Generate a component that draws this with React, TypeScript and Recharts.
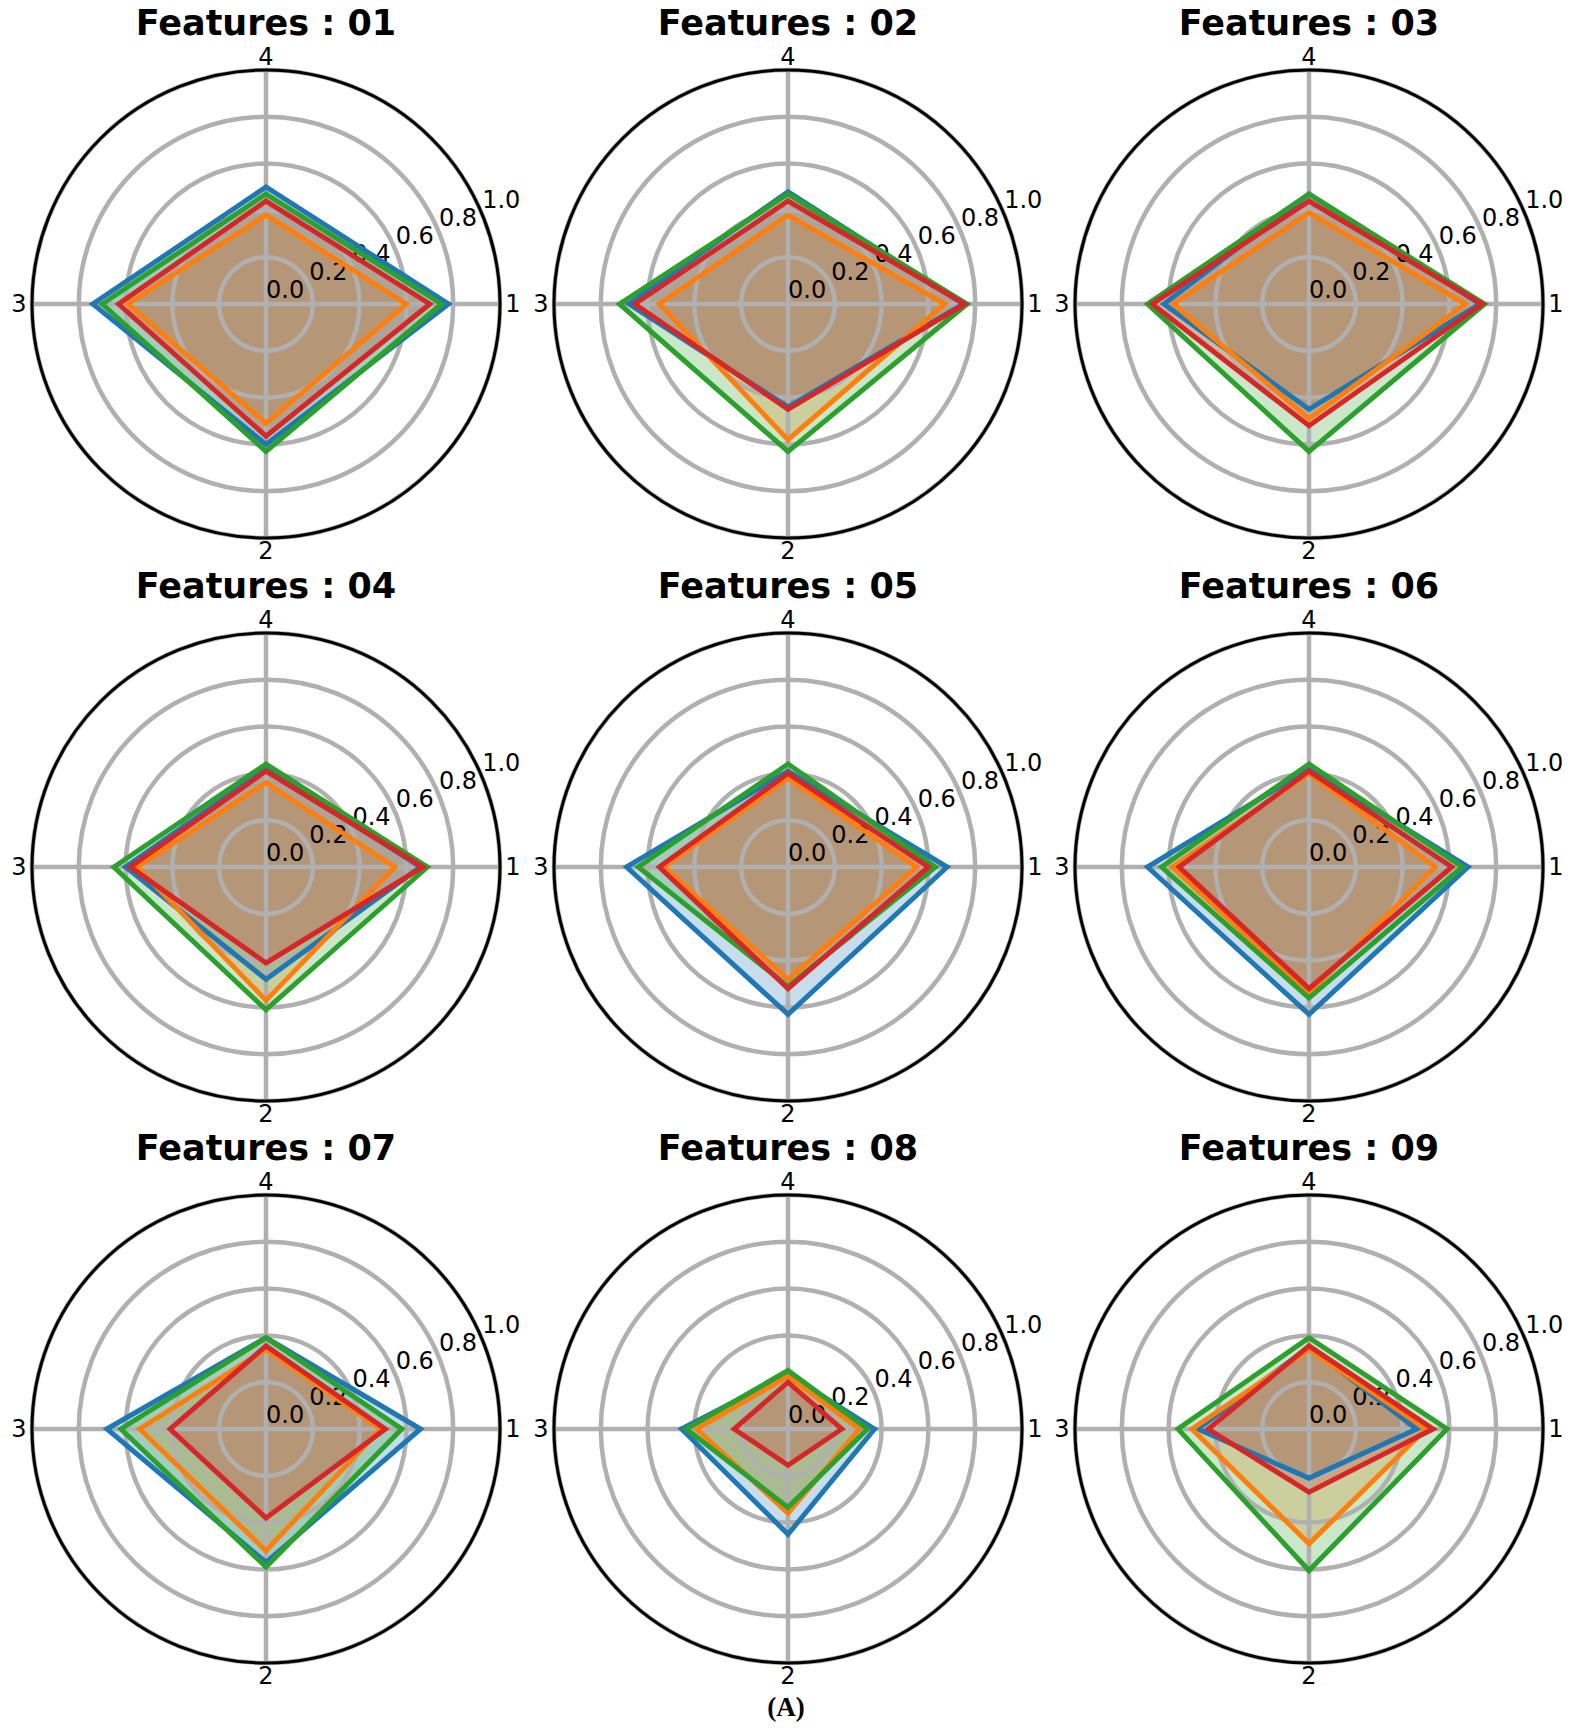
import React from 'react';
import { RadarChart, Radar, PolarGrid, PolarAngleAxis, PolarRadiusAxis } from 'recharts';

// ---- data ----
const categories = ['1', '2', '3', '4'];
const radiusTicks = [0, 0.2, 0.4, 0.6, 0.8, 1.0];
const seriesKeys = ['s1', 's2', 's3', 's4'];
const seriesColors = ['#1f77b4', '#ff7f0e', '#2ca02c', '#d62728'];
const panelTitles = [
  'Features : 01', 'Features : 02', 'Features : 03',
  'Features : 04', 'Features : 05', 'Features : 06',
  'Features : 07', 'Features : 08', 'Features : 09',
];

// values per axis [1, 2, 3, 4]
const f01_s1 = [0.78, 0.6, 0.74, 0.5];
const f01_s2 = [0.6, 0.51, 0.59, 0.38];
const f01_s3 = [0.75, 0.63, 0.7, 0.47];
const f01_s4 = [0.7, 0.565, 0.63, 0.44];

const f02_s1 = [0.75, 0.44, 0.68, 0.48];
const f02_s2 = [0.67, 0.58, 0.55, 0.38];
const f02_s3 = [0.765, 0.63, 0.72, 0.47];
const f02_s4 = [0.755, 0.45, 0.655, 0.44];

const f03_s1 = [0.73, 0.45, 0.62, 0.47];
const f03_s2 = [0.67, 0.49, 0.58, 0.39];
const f03_s3 = [0.75, 0.63, 0.69, 0.47];
const f03_s4 = [0.74, 0.52, 0.67, 0.44];

const f04_s1 = [0.66, 0.48, 0.6, 0.42];
const f04_s2 = [0.55, 0.57, 0.55, 0.36];
const f04_s3 = [0.69, 0.61, 0.65, 0.44];
const f04_s4 = [0.67, 0.41, 0.58, 0.41];

const f05_s1 = [0.68, 0.63, 0.69, 0.41];
const f05_s2 = [0.55, 0.48, 0.53, 0.38];
const f05_s3 = [0.63, 0.51, 0.64, 0.44];
const f05_s4 = [0.6, 0.52, 0.55, 0.4];

const f06_s1 = [0.68, 0.63, 0.69, 0.42];
const f06_s2 = [0.54, 0.54, 0.585, 0.4];
const f06_s3 = [0.655, 0.56, 0.63, 0.44];
const f06_s4 = [0.61, 0.52, 0.555, 0.41];

const f07_s1 = [0.66, 0.57, 0.68, 0.39];
const f07_s2 = [0.49, 0.52, 0.54, 0.34];
const f07_s3 = [0.58, 0.59, 0.62, 0.39];
const f07_s4 = [0.51, 0.38, 0.41, 0.355];

const f08_s1 = [0.37, 0.45, 0.455, 0.235];
const f08_s2 = [0.305, 0.36, 0.39, 0.225];
const f08_s3 = [0.34, 0.335, 0.435, 0.25];
const f08_s4 = [0.23, 0.155, 0.23, 0.2];

const f09_s1 = [0.46, 0.21, 0.475, 0.35];
const f09_s2 = [0.5, 0.49, 0.5, 0.34];
const f09_s3 = [0.59, 0.605, 0.56, 0.39];
const f09_s4 = [0.53, 0.27, 0.43, 0.355];

const panelValues = [
  [f01_s1, f01_s2, f01_s3, f01_s4],
  [f02_s1, f02_s2, f02_s3, f02_s4],
  [f03_s1, f03_s2, f03_s3, f03_s4],
  [f04_s1, f04_s2, f04_s3, f04_s4],
  [f05_s1, f05_s2, f05_s3, f05_s4],
  [f06_s1, f06_s2, f06_s3, f06_s4],
  [f07_s1, f07_s2, f07_s3, f07_s4],
  [f08_s1, f08_s2, f08_s3, f08_s4],
  [f09_s1, f09_s2, f09_s3, f09_s4],
];

// ---- layout ----
const COL_X = [266, 788, 1309];
const ROW_Y = [304, 867, 1429];
const R = 234;
const BOX_W = 524;
const BOX_H = 580;
const GRID_GRAY = '#b0b0b0';

function buildData(values: number[][]) {
  return categories.map((c, i) => {
    const row: any = { axis: c };
    seriesKeys.forEach((k, j) => {
      row[k] = values[j][i];
    });
    return row;
  });
}

const AngleTick = (props: any) => {
  const { x, y, payload } = props;
  return (
    <text x={x} y={y} textAnchor="middle" dominantBaseline="central" fontSize={24} fontFamily="DejaVu Sans" fill="#000">
      {payload.value}
    </text>
  );
};

const RadiusTick = (props: any) => {
  const { x, y, payload } = props;
  return (
    <text x={x} y={y} dy={-6} textAnchor="start" fontSize={24} fontFamily="DejaVu Sans" fill="#000">
      {Number(payload.value).toFixed(1)}
    </text>
  );
};

const chartProps = {
  width: BOX_W,
  height: BOX_H,
  cx: BOX_W / 2,
  cy: BOX_H / 2,
  innerRadius: 0,
  outerRadius: R,
  startAngle: 0,
  endAngle: -360,
  margin: { top: 0, right: 0, bottom: 0, left: 0 },
};

const layerStyle: React.CSSProperties = { position: 'absolute', left: 0, top: 0 };

function Panel({ idx }: { idx: number }) {
  const col = idx % 3;
  const row = Math.floor(idx / 3);
  const cx = COL_X[col];
  const cy = ROW_Y[row];
  const data = buildData(panelValues[idx]);
  return (
    <>
      <div
        style={{
          position: 'absolute',
          left: cx - 260,
          top: cy - 298,
          width: 520,
          textAlign: 'center',
          fontFamily: 'DejaVu Sans',
          fontWeight: 'bold',
          fontSize: 35,
          lineHeight: '35px',
          color: '#000',
        }}
      >
        {panelTitles[idx]}
      </div>
      <div style={{ position: 'absolute', left: cx - BOX_W / 2, top: cy - BOX_H / 2, width: BOX_W, height: BOX_H }}>
        {/* layer 1: fills */}
        <div style={layerStyle}>
          <RadarChart {...chartProps} data={data}>
            <PolarAngleAxis dataKey="axis" tick={false} axisLine={false} tickLine={false} />
            <PolarRadiusAxis type="number" domain={[0, 1]} tickCount={6} tick={false} axisLine={false} tickLine={false} />
            {seriesKeys.map((k, i) => (
              <Radar
                key={'fill-' + k}
                name={k}
                dataKey={k}
                stroke="none"
                fill={seriesColors[i]}
                fillOpacity={0.25}
                isAnimationActive={false}
              />
            ))}
          </RadarChart>
        </div>
        {/* layer 2: grid and axes (drawn above fills, below outlines) */}
        <div style={layerStyle}>
          <RadarChart {...chartProps} data={data}>
            <PolarGrid gridType="circle" stroke={GRID_GRAY} strokeWidth={4.5} />
            <PolarAngleAxis
              dataKey="axis"
              tickLine={false}
              axisLineType="circle"
              axisLine={{ stroke: '#000', strokeWidth: 3 }}
              tickSize={13}
              tick={AngleTick}
            />
            <PolarRadiusAxis
              angle={22.5}
              type="number"
              domain={[0, 1]}
              ticks={radiusTicks as any}
              tickCount={6}
              axisLine={false}
              tickLine={false}
              tick={RadiusTick}
            />
            <Radar
              name="scale"
              dataKey="s1"
              stroke="none"
              fill="none"
              fillOpacity={0}
              legendType="none"
              isAnimationActive={false}
            />
          </RadarChart>
        </div>
        {/* layer 3: outlines */}
        <div style={layerStyle}>
          <RadarChart {...chartProps} data={data}>
            <PolarAngleAxis dataKey="axis" tick={false} axisLine={false} tickLine={false} />
            <PolarRadiusAxis type="number" domain={[0, 1]} tickCount={6} tick={false} axisLine={false} tickLine={false} />
            {seriesKeys.map((k, i) => (
              <Radar
                key={'line-' + k}
                name={k}
                dataKey={k}
                stroke={seriesColors[i]}
                strokeWidth={5}
                strokeLinejoin="miter"
                fill="none"
                fillOpacity={0}
                isAnimationActive={false}
              />
            ))}
          </RadarChart>
        </div>
      </div>
    </>
  );
}

export default function App() {
  return (
    <div
      style={{
        position: 'absolute',
        left: 0,
        top: 0,
        width: 1571,
        height: 1731,
        background: '#fff',
        overflow: 'hidden',
      }}
    >
      {panelTitles.map((_, i) => (
        <Panel key={i} idx={i} />
      ))}
      <div
        style={{
          position: 'absolute',
          left: 686,
          top: 1694,
          width: 200,
          textAlign: 'center',
          fontFamily: 'Liberation Serif',
          fontWeight: 'bold',
          fontSize: 27,
          lineHeight: '27px',
          color: '#000',
        }}
      >
        (A)
      </div>
    </div>
  );
}
